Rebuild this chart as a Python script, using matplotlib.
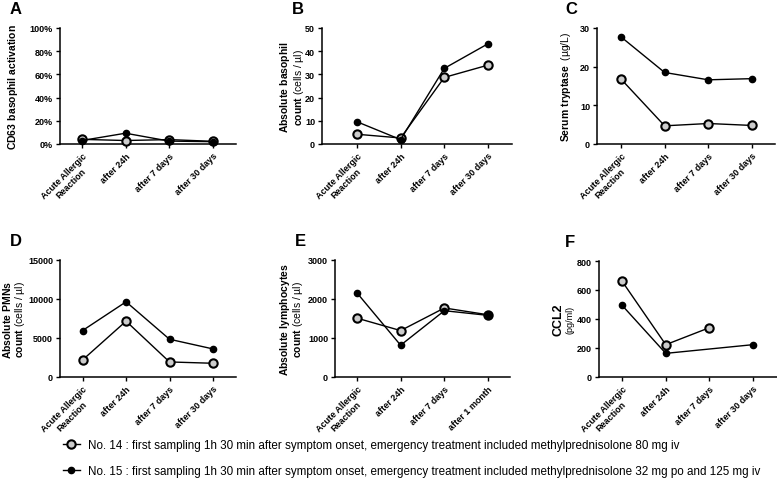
import numpy as np
import matplotlib
matplotlib.use("Agg")
import matplotlib.pyplot as plt
from matplotlib.lines import Line2D

plt.rcParams['font.family'] = ['Liberation Sans', 'DejaVu Sans']
plt.rcParams['mathtext.fontset'] = 'custom'
plt.rcParams['mathtext.rm'] = 'Liberation Sans'
plt.rcParams['mathtext.bf'] = 'Liberation Sans:bold'

# categories
cats = ["Acute Allergic\nReaction", "after 24h", "after 7 days", "after 30 days"]
cats_e = ["Acute Allergic\nReaction", "after 24h", "after 7 days", "after 1 month"]

# No. 14 (open) / No. 15 (filled)
a14 = [4.0, 3.0, 3.8, 2.3]
a15 = [3.0, 9.3, 2.5, 2.0]
b14 = [4.2, 2.6, 28.7, 34.0]
b15 = [9.6, 1.9, 32.6, 43.2]
c14 = [16.8, 4.7, 5.3, 4.8]
c15 = [27.7, 18.5, 16.6, 16.9]
d14 = [2190, 7160, 1930, 1760]
d15 = [5960, 9640, 4840, 3600]
e14 = [1510, 1190, 1770, 1595]
e15 = [2160, 815, 1700, 1580]
f14 = [660, 223, 340, np.nan]
f15 = [494, 163, np.nan, 223]

legend14 = "No. 14 : first sampling 1h 30 min after symptom onset, emergency treatment included methylprednisolone 80 mg iv"
legend15 = "No. 15 : first sampling 1h 30 min after symptom onset, emergency treatment included methylprednisolone 32 mg po and 125 mg iv"

W, H = 777, 489
fig = plt.figure(figsize=(W / 100, H / 100), dpi=100)


def px(l, t, r, b):
    return [l / W, 1 - b / H, (r - l) / W, (b - t) / H]


panels = [
    dict(letter="A", box=(60, 29, 236, 145), xl=(-0.5, 3.53), y14=a14, y15=a15, labels=cats,
         yt=[0, 20, 40, 60, 80, 100], ytl=["0%", "20%", "40%", "60%", "80%", "100%"],
         ylab=r"$\mathbf{CD63\ basophil\ activation}$", lx=-0.225, dx=50),
    dict(letter="B", box=(322, 29, 512, 145), xl=(-0.8, 3.55), y14=b14, y15=b15, labels=cats,
         yt=[0, 10, 20, 30, 40, 50], ytl=None,
         ylab="$\\mathbf{Absolute\\ basophil}$\n$\\mathbf{count}$ (cells / µl)", lx=-0.085, dx=30),
    dict(letter="C", box=(597, 29, 775, 145), xl=(-0.55, 3.53), y14=c14, y15=c15, labels=cats,
         yt=[0, 10, 20, 30], ytl=None,
         ylab=r"$\mathbf{Serum\ tryptase}$  (µg/L)", lx=-0.135, dx=32),
    dict(letter="D", box=(60, 261, 236, 378), xl=(-0.52, 3.53), y14=d14, y15=d15, labels=cats,
         yt=[0, 5000, 10000, 15000], ytl=None,
         ylab="$\\mathbf{Absolute\\ PMNs}$\n$\\mathbf{count}$ (cells / µl)", lx=-0.19, dx=50),
    dict(letter="E", box=(335, 261, 510, 378), xl=(-0.5, 3.5), y14=e14, y15=e15, labels=cats_e,
         yt=[0, 1000, 2000, 3000], ytl=None,
         ylab="$\\mathbf{Absolute\\ lymphocytes}$\n$\\mathbf{count}$ (cells / µl)", lx=-0.17, dx=40),
    dict(letter="F", box=(599, 262, 777, 378), xl=(-0.53, 3.55), y14=f14, y15=f15, labels=cats,
         yt=[0, 200, 400, 600, 800], ytl=None, ylab=None, lx=None, dx=34),
]

for p in panels:
    ax = fig.add_axes(px(*p["box"]))
    x = np.arange(4)
    for ys, filled in ((p["y14"], False), (p["y15"], True)):
        ys = np.asarray(ys, dtype=float)
        ok = ~np.isnan(ys)
        if filled:
            ax.plot(x[ok], ys[ok], color="black", lw=1, marker="o", ms=4.5,
                    mfc="black", mec="black", clip_on=False, zorder=3)
        else:
            ax.plot(x[ok], ys[ok], color="black", lw=1, marker="o", ms=6,
                    mfc="#cccccc", mec="black", mew=1.5, clip_on=False, zorder=3)
    ax.set_xlim(*p["xl"])
    ax.set_ylim(p["yt"][0], p["yt"][-1])
    ax.set_yticks(p["yt"])
    if p["ytl"]:
        ax.set_yticklabels(p["ytl"])
    ax.set_xticks(x)
    ax.set_xticklabels(p["labels"], rotation=45, ha="right", rotation_mode="anchor",
                       multialignment="center")
    for s in ("top", "right"):
        ax.spines[s].set_visible(False)
    for s in ("left", "bottom"):
        ax.spines[s].set_linewidth(1.1)
    ax.tick_params(axis="both", direction="out", length=3, width=1, pad=2)
    for t in ax.get_xticklabels() + ax.get_yticklabels():
        t.set_fontsize(6.5)
        t.set_fontweight("bold")
    if p["ylab"]:
        ax.set_ylabel(p["ylab"], fontsize=7.5, linespacing=0.95)
        ax.yaxis.set_label_coords(p["lx"], 0.5)
    else:
        # CCL2 panel: big bold name with small unit below it
        ax.text(-0.23, 0.5, "CCL2", rotation=90, fontsize=9, fontweight="bold",
                ha="center", va="center", transform=ax.transAxes)
        ax.text(-0.163, 0.5, "(pg/ml)", rotation=90, fontsize=6.5,
                ha="center", va="center", transform=ax.transAxes)
    l, t, r, b = p["box"]
    fig.text((l - p["dx"]) / W, 1 - (t - 19) / H, p["letter"],
             fontsize=12, fontweight="bold", va="center")

h14 = Line2D([], [], color="black", lw=1, marker="o", ms=6, mfc="#cccccc", mec="black", mew=1.5)
h15 = Line2D([], [], color="black", lw=1, marker="o", ms=4.5, mfc="black", mec="black")
fig.legend([h14, h15], [legend14, legend15], loc="upper left",
           bbox_to_anchor=(52 / W, 1 - 430 / H), frameon=False, fontsize=8.4,
           handlelength=1.5, handletextpad=0.7, labelspacing=1.2)

fig.savefig("out.png", dpi=100)
